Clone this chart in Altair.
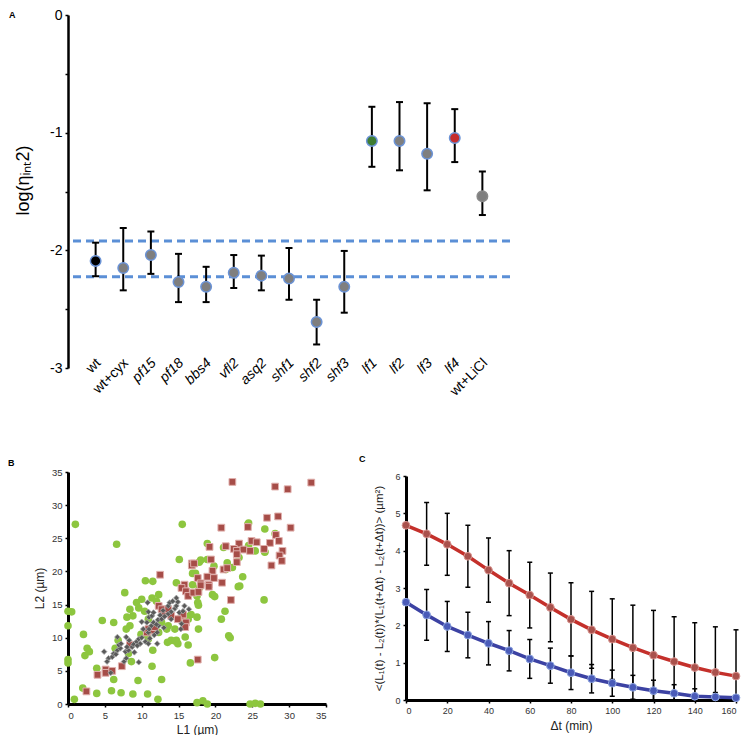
import altair as alt
import pandas as pd

# ---------------- Panel A data ----------------
cats = ["wt", "wt+cyx", "pf15", "pf18", "bbs4", "vfl2", "asq2", "shf1", "shf2", "shf3",
        "lf1", "lf2", "lf3", "lf4", "wt+LiCl"]
means = [-2.09, -2.15, -2.04, -2.27, -2.31, -2.19, -2.215, -2.24, -2.61, -2.31,
         -1.07, -1.07, -1.18, -1.045, -1.54]
upper = [-1.935, -1.81, -1.84, -2.03, -2.14, -2.04, -2.045, -1.98, -2.42, -2.005,
         -0.78, -0.74, -0.75, -0.80, -1.33]
lower = [-2.22, -2.34, -2.20, -2.44, -2.44, -2.32, -2.34, -2.42, -2.80, -2.53,
         -1.29, -1.32, -1.49, -1.25, -1.70]
fills = ["#000000"] + ["#7f7f7f"] * 9 + ["#3e7d32", "#7f7f7f", "#7f7f7f", "#c62e2e", "#7f7f7f"]
strokes = ["#6b93d6"] * 14 + ["#8a8a8a"]
italic = [False, False] + [True] * 12 + [False]
band_lines = [-1.92, -2.225]

# ---------------- Panel B data ----------------
green_l1 = [1.0, 15.5, 6.6, 15.1, 10.5, 11.5, 14.7, 16.9, 17.8, 24.4, 26.7, 28.1, 18.9, 21.1, 24.5,
            25.4, 26.7, 18.0, 18.9, 23.2, 21.6, 21.4, 22.3, 23.7, 23.3, 17.3, 19.8, 7.7, 0.0, 0.5,
            0.0, 2.1, 4.65, 6.2, 2.6, 2.9, 2.3, 0.0, 0.0, 8.4, 9.6, 10.0, 11.4, 12.3, 8.8,
            8.0, 8.4, 10.9, 12.7, 13.6, 14.5, 13.4, 10.7, 10.9, 12.3, 13.5, 14.7, 14.9, 16.3, 15.9,
            16.9, 17.8, 17.5, 17.6, 16.3, 16.7, 6.4, 8.6, 6.2, 11.4, 12.7, 9.5, 2.0, 3.9, 5.9,
            7.2, 8.8, 10.8, 12.2, 0.86, 17.5, 16.6, 14.0, 23.1, 19.6, 19.9, 17.7, 17.5, 17.7, 21.3,
            20.8, 21.8, 22.0, 26.6, 19.9, 18.3, 18.9, 24.7, 25.4, 26.1, 26.7, 24.5, 3.9, 9.3, 10.4,
            12.0, 6.8, 7.9, 8.2, 9.9, 11.5, 14.5, 16.1, 15.1]
green_l2 = [27.1, 27.1, 24.1, 21.8, 18.6, 18.5, 18.3, 19.7, 21.4, 27.1, 26.4, 25.7, 24.2, 23.6, 23.9,
            23.1, 22.9, 21.7, 21.8, 22.1, 21.3, 20.3, 20.6, 19.2, 17.8, 19.7, 20.8, 16.8, 14.0, 13.9,
            11.8, 10.5, 12.6, 12.3, 8.4, 7.9, 7.3, 6.7, 6.2, 14.3, 14.5, 15.8, 16.0, 16.5, 13.3,
            13.1, 11.8, 12.8, 12.3, 11.8, 11.3, 11.3, 10.4, 9.8, 10.8, 9.3, 9.6, 9.1, 8.9, 10.1,
            18.0, 17.5, 16.3, 15.3, 12.8, 13.5, 8.4, 6.4, 3.7, 5.7, 3.7, 3.55, 2.4, 1.6, 2.0,
            1.7, 1.5, 1.5, 0.7, 0.7, 0.2, 6.2, 9.6, 17.7, 16.5, 16.2, 14.9, 13.1, 11.3, 14.0,
            12.8, 10.3, 10.0, 15.7, 7.0, 0.5, 0.0, 0.0, 0.1, 0.0, 23.0, 27.3, 5.4, 15.3, 14.0,
            15.5, 9.6, 11.3, 7.6, 10.5, 8.1, 9.5, 13.2, 12.8]

red_l1 = [12.5, 16.8, 16.8, 15.8, 22.3, 28.1, 29.8, 33.0, 27.0, 28.5, 20.8, 24.4, 30.2, 28.2, 28.6,
          27.4, 24.9, 25.6, 23.2, 22.5, 22.9, 23.8, 24.7, 26.6, 21.4, 19.2, 29.1, 28.7, 29.0, 27.6,
          22.9, 22.9, 19.4, 17.1, 19.6, 21.1, 21.6, 17.6, 18.9, 19.8, 18.0, 19.1, 20.9, 4.0, 5.1,
          5.1, 6.0, 2.5, 7.3, 8.4, 10.7, 10.9, 11.4, 11.8, 12.3, 12.7, 13.1, 13.6, 14.0, 15.4,
          15.6, 15.4, 16.0, 16.3, 17.0, 14.9, 17.6, 16.0, 15.9, 22.1, 18.0, 19.1, 17.7]
red_l2 = [19.5, 21.2, 20.9, 18.0, 33.5, 32.8, 32.4, 33.4, 28.1, 28.3, 26.6, 26.7, 26.6, 25.5, 24.6,
          24.3, 24.6, 24.4, 24.2, 23.4, 23.1, 23.3, 23.1, 23.4, 23.8, 23.7, 23.1, 22.4, 21.6, 20.9,
          21.4, 22.6, 21.8, 21.2, 20.1, 20.3, 20.5, 19.0, 19.2, 19.0, 18.2, 18.0, 18.3, 4.4, 5.2,
          4.7, 5.0, 1.9, 5.7, 8.9, 10.8, 11.3, 11.1, 11.6, 14.8, 14.3, 13.8, 14.3, 13.3, 13.3,
          13.5, 17.5, 17.0, 16.3, 16.8, 12.8, 6.7, 12.3, 11.6, 15.7, 17.9, 17.7, 16.9]

grey_l1 = [4.9, 5.5, 5.3, 6.0, 6.2, 6.7, 7.1, 6.9, 6.7, 7.2, 7.8, 8.2, 8.7, 8.9, 9.3, 9.6, 10.0, 10.5,
           10.9, 7.6, 7.9, 5.8, 9.0, 12.1, 11.1, 10.9, 11.0, 11.3, 11.6, 10.7, 10.0, 11.0, 11.4, 11.6,
           10.9, 12.2, 12.5, 12.7, 13.1, 13.6, 14.0, 14.5, 14.7, 14.9, 13.6, 13.8, 12.9, 14.0, 15.1,
           15.6, 15.8, 15.4, 15.3, 16.4, 14.7, 10.8, 7.9, 12.1, 12.3, 10.2, 11.7, 9.8, 9.6, 8.3, 12.0,
           13.0, 14.2, 9.4, 6.5, 8.0]
grey_l2 = [7.9, 6.9, 6.4, 7.1, 7.6, 8.1, 8.4, 8.9, 10.1, 9.1, 7.9, 8.1, 8.6, 9.0, 9.4, 9.8, 10.0, 9.4,
           9.1, 6.4, 6.9, 4.7, 7.8, 9.1, 9.9, 10.8, 11.3, 11.8, 12.3, 12.3, 12.4, 13.1, 13.3, 13.8,
           13.9, 12.7, 13.4, 12.8, 13.2, 13.6, 13.9, 14.4, 14.8, 15.4, 14.8, 15.3, 14.1, 12.8, 13.8,
           14.0, 14.8, 12.1, 11.3, 14.3, 16.0, 15.3, 10.1, 10.8, 11.8, 11.3, 10.4, 9.1, 6.3, 9.6, 12.0,
           11.5, 15.5, 8.8, 7.5, 8.6]

# ---------------- Panel C data ----------------
dt = [0, 10, 20, 30, 40, 50, 60, 70, 80, 90, 100, 110, 120, 130, 140, 150, 160]
red_mean = [4.68, 4.45, 4.17, 3.85, 3.48, 3.13, 2.81, 2.48, 2.16, 1.88, 1.63, 1.40, 1.20, 1.03, 0.87, 0.74, 0.64]
red_err = [0, 0.84, 0.83, 0.83, 0.86, 0.87, 0.88, 0.92, 0.98, 1.03, 1.08, 1.14, 1.20, 1.20, 1.20, 1.22, 1.24]
blue_mean = [2.62, 2.28, 1.97, 1.74, 1.52, 1.32, 1.10, 0.92, 0.73, 0.57, 0.45, 0.34, 0.25, 0.18, 0.10, 0.08, 0.06]
blue_err = [0, 0.68, 0.67, 0.61, 0.58, 0.54, 0.52, 0.47, 0.45, 0.38, 0.35, 0.32, 0.28, 0.23, 0.20, 0.12, 0.06]

FONT = "Liberation Sans"

# ================= Panel A =================
a_df = pd.DataFrame({
    "cat": cats, "pos": list(range(1, len(cats) + 1)), "mean": means,
    "hi": upper, "lo": lower, "fill": fills, "stroke": strokes, "italic": italic,
})
yscaleA = alt.Scale(domain=[-3, 0], nice=False)
yaxisA = alt.Axis(values=[0, -0.5, -1, -1.5, -2, -2.5, -3],
                  labelExpr="datum.value % 1 == 0 ? '' + datum.value : ''",
                  title="log(ηᵢₙₜ2)", titleFontSize=18, titleFont=FONT, titleFontWeight="normal",
                  titleX=-45, titleY=165, titleBaseline="middle", titleColor="black",
                  labelFontSize=14, labelFont=FONT, labelColor="black", labelPadding=3,
                  domainWidth=2.5, tickWidth=1.5, tickSize=3)
xA = alt.X("pos:Q", scale=alt.Scale(domain=[0, 16], nice=False), axis=None)
baseA = alt.Chart(a_df)

bands = alt.Chart(pd.DataFrame({"y": band_lines})).mark_rule(
    color="#5b8fd6", strokeWidth=3, strokeDash=[8, 5]
).encode(y=alt.Y("y:Q", scale=yscaleA, axis=yaxisA))
errA = baseA.mark_rule(color="black", strokeWidth=2).encode(
    x=xA, y=alt.Y("lo:Q", scale=yscaleA, axis=yaxisA), y2="hi:Q")
capLoA = baseA.mark_rule(color="black", strokeWidth=2, xOffset=-3.5, x2Offset=3.5).encode(
    x=xA, x2="pos:Q", y=alt.Y("lo:Q", scale=yscaleA, axis=yaxisA))
capHiA = baseA.mark_rule(color="black", strokeWidth=2, xOffset=-3.5, x2Offset=3.5).encode(
    x=xA, x2="pos:Q", y=alt.Y("hi:Q", scale=yscaleA, axis=yaxisA))
ptsA = baseA.mark_circle(size=110, opacity=1, strokeWidth=1.5).encode(
    x=xA, y=alt.Y("mean:Q", scale=yscaleA, axis=yaxisA),
    fill=alt.Fill("fill:N", scale=None), stroke=alt.Stroke("stroke:N", scale=None))
labNormal = baseA.transform_filter("!datum.italic").mark_text(
    angle=315, align="right", baseline="middle", fontSize=14, font=FONT, color="black",
    xOffset=3, yOffset=-7
).encode(x=xA, y=alt.datum(-3, scale=yscaleA), text="cat:N")
labItalic = baseA.transform_filter("datum.italic").mark_text(
    angle=315, align="right", baseline="middle", fontSize=14, font=FONT, color="black",
    fontStyle="italic", xOffset=3, yOffset=-7
).encode(x=xA, y=alt.datum(-3, scale=yscaleA), text="cat:N")
letterA = alt.Chart(pd.DataFrame({"t": ["A"]})).mark_text(
    align="left", baseline="middle", fontSize=9, fontWeight="bold", font=FONT, color="black"
).encode(text="t:N", x=alt.value(-59), y=alt.value(0))

panelA = alt.layer(bands, errA, capLoA, capHiA, ptsA, labNormal, labItalic, letterA).properties(
    width=442, height=353)

# ================= Panel B =================
g_df = pd.DataFrame({"l1": green_l1, "l2": green_l2})
r_df = pd.DataFrame({"l1": red_l1, "l2": red_l2})
k_df = pd.DataFrame({"l1": grey_l1, "l2": grey_l2})
vals35 = [0, 5, 10, 15, 20, 25, 30, 35]
xB = alt.X("l1:Q", scale=alt.Scale(domain=[0, 35], nice=False),
           axis=alt.Axis(values=vals35, title="L1 (µm)", titleY=25, titleBaseline="middle"))
yB = alt.Y("l2:Q", scale=alt.Scale(domain=[0, 35], nice=False),
           axis=alt.Axis(values=vals35, title="L2 (µm)", titleX=-29, titleBaseline="middle"))
gB = alt.Chart(g_df).mark_circle(size=58, color="#8dc63f", opacity=1).encode(x=xB, y=yB)
rB = alt.Chart(r_df).mark_square(size=46, fill="#a64d48", stroke="#e0b0ad", strokeWidth=1,
                                 opacity=1).encode(x=xB, y=yB)
kB = alt.Chart(k_df).mark_point(shape="diamond", filled=True, size=32, fill="#5a5a5a",
                                stroke="#a8a8a8", strokeWidth=0.8, opacity=1).encode(x=xB, y=yB)
letterB = alt.Chart(pd.DataFrame({"t": ["B"]})).mark_text(
    align="left", baseline="middle", fontSize=9, fontWeight="bold", font=FONT, color="black"
).encode(text="t:N", x=alt.value(-60), y=alt.value(-9))
panelB = alt.layer(gB, rB, kB, letterB).properties(width=258, height=232)

# ================= Panel C =================
rows = []
for t, m, e in zip(dt, red_mean, red_err):
    rows.append({"t": t, "v": m, "lo": max(m - e, 0), "hi": m + e, "err": e, "s": "red",
                 "line": "#c4302b", "fill": "#a9514c", "edge": "#d99590"})
for t, m, e in zip(dt, blue_mean, blue_err):
    rows.append({"t": t, "v": m, "lo": max(m - e, 0), "hi": m + e, "err": e, "s": "blue",
                 "line": "#3c42a3", "fill": "#4a5bb8", "edge": "#8fa6e0"})
c_df = pd.DataFrame(rows)
xC = alt.X("t:Q", scale=alt.Scale(domain=[0, 160], nice=False),
           axis=alt.Axis(values=[0, 20, 40, 60, 80, 100, 120, 140, 160], title="Δt (min)",
                         titleY=25, titleBaseline="middle", titleFontSize=12, labelFontSize=9))
yscC = alt.Scale(domain=[0, 6], nice=False)
yaxC = alt.Axis(values=[0, 1, 2, 3, 4, 5, 6], labelFontSize=9,
                title="<(L₁(t) - L₂(t))*(L₁(t+Δt) - L₂(t+Δt))>  (µm²)",
                titleX=-27, titleBaseline="middle", titleFontSize=11.5)
baseC = alt.Chart(c_df)
errC = baseC.transform_filter("datum.err > 0").mark_rule(color="black", strokeWidth=1.5).encode(
    x=xC, y=alt.Y("lo:Q", scale=yscC, axis=yaxC), y2="hi:Q")
capC1 = baseC.transform_filter("datum.err > 0").mark_rule(
    color="black", strokeWidth=1.5, xOffset=-2.5, x2Offset=2.5).encode(
    x=xC, x2="t:Q", y=alt.Y("hi:Q", scale=yscC, axis=yaxC))
capC2 = baseC.transform_filter("datum.err > 0 && datum.lo > 0").mark_rule(
    color="black", strokeWidth=1.5, xOffset=-2.5, x2Offset=2.5).encode(
    x=xC, x2="t:Q", y=alt.Y("lo:Q", scale=yscC, axis=yaxC))
lineC = baseC.mark_line(strokeWidth=3.5).encode(
    x=xC, y=alt.Y("v:Q", scale=yscC, axis=yaxC), detail="s:N",
    color=alt.Color("line:N", scale=None))
ptsC = baseC.mark_circle(size=60, opacity=1, strokeWidth=1).encode(
    x=xC, y=alt.Y("v:Q", scale=yscC, axis=yaxC),
    fill=alt.Fill("fill:N", scale=None), stroke=alt.Stroke("edge:N", scale=None))
letterC = alt.Chart(pd.DataFrame({"t": ["C"]})).mark_text(
    align="left", baseline="middle", fontSize=9, fontWeight="bold", font=FONT, color="black"
).encode(text="t:N", x=alt.value(-47), y=alt.value(-17))
panelC = alt.layer(errC, capC1, capC2, lineC, ptsC, letterC).properties(width=330, height=224)

bottom = alt.hconcat(panelB, panelC, spacing=80, bounds="flush", center=True)
chart = alt.vconcat(panelA, bottom, spacing=104, bounds="flush").properties(
    padding=0
).configure_view(stroke=None).configure_axis(
    grid=False, domainColor="black", domainWidth=3, tickColor="black", tickWidth=1.5,
    tickSize=3, labelFont=FONT, labelFontSize=9.5, labelColor="#333333", titleFont=FONT,
    titleFontWeight="normal", titleFontSize=12, titleColor="#222222", labelPadding=3
)

chart.save("out.html", embed_options={"renderer": "svg", "actions": False})
